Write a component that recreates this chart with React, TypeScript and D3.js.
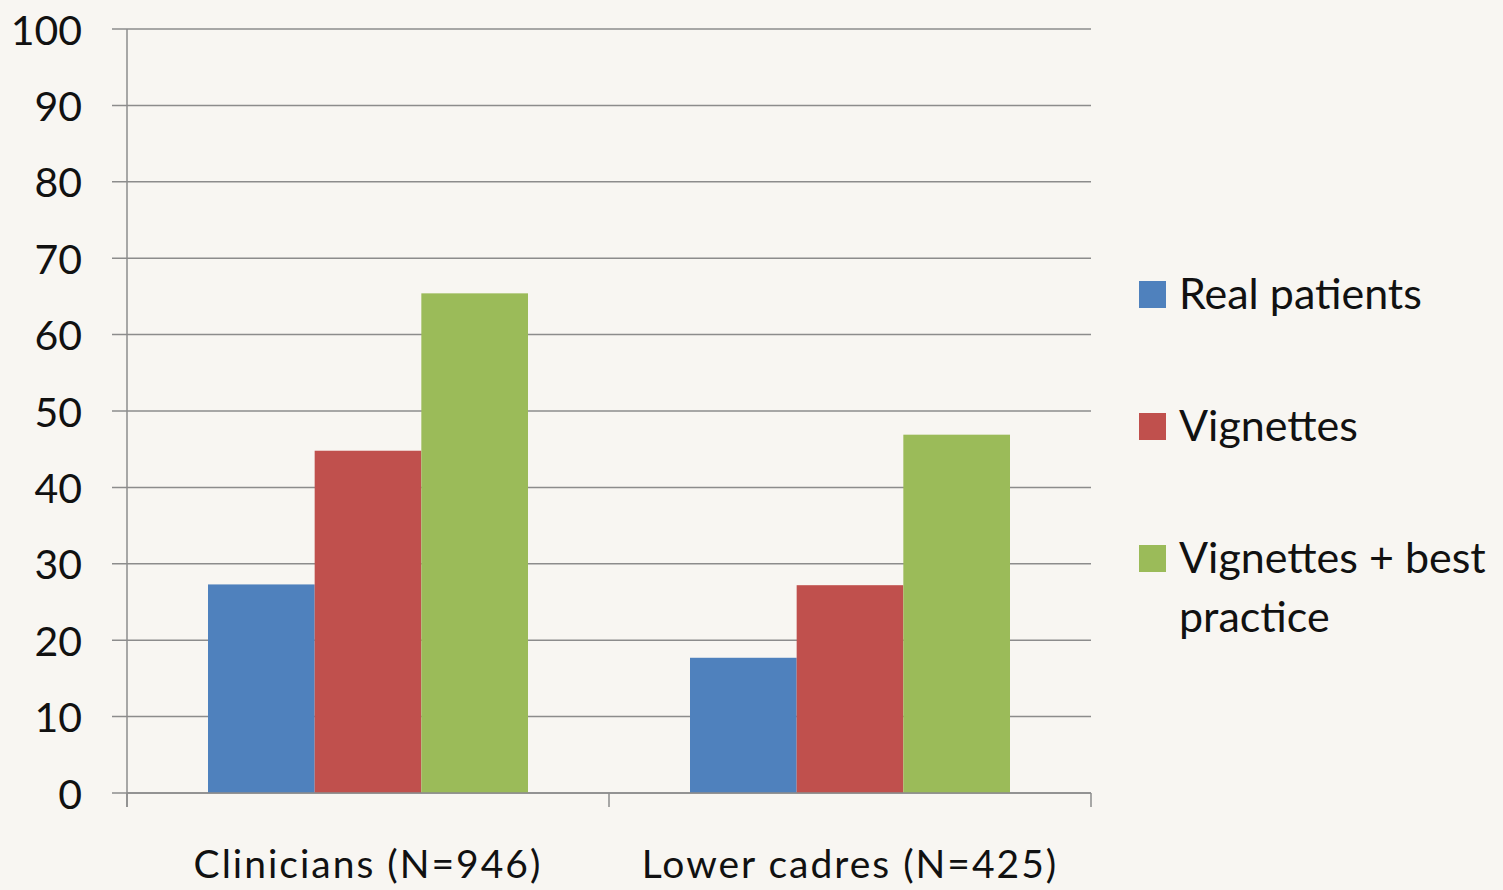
import React from "react";
import * as d3 from "d3";

// Share of cases (%) by provider cadre and measurement method
const categories = ["Clinicians (N=946)", "Lower cadres (N=425)"];
const seriesNames = ["Real patients", "Vignettes", "Vignettes + best practice"];
const realPatients = [27.3, 17.7];
const vignettes = [44.8, 27.2];
const vignettesBest = [65.4, 46.9];
const seriesColors = ["#4f81bd", "#c0504d", "#9bbb59"];
const yTicks = [0, 10, 20, 30, 40, 50, 60, 70, 80, 90, 100];

const W = 1503;
const H = 890;
const FONT = "Lato, 'Open Sans', sans-serif";

export default function App() {
  const plot = { left: 127, right: 1091, top: 29, bottom: 793 };

  const x0 = d3
    .scaleBand<string>()
    .domain(categories)
    .range([plot.left, plot.right])
    .paddingInner(0)
    .paddingOuter(0);

  const groupPad = 81;
  const x1 = d3
    .scaleBand<string>()
    .domain(seriesNames)
    .range([groupPad, x0.bandwidth() - groupPad]);

  const y = d3.scaleLinear().domain([0, 100]).range([plot.bottom, plot.top]);

  const series = [realPatients, vignettes, vignettesBest];

  const legendItems = [
    { name: "Real patients", lines: ["Real patients"], y: 294 },
    { name: "Vignettes", lines: ["Vignettes"], y: 426 },
    { name: "Vignettes + best practice", lines: ["Vignettes + best", "practice"], y: 558 },
  ];

  const boundaries = [plot.left, ...categories.map((c) => (x0(c) as number) + x0.bandwidth())];

  return (
    <svg width={W} height={H} style={{ position: "absolute", left: 0, top: 0, background: "#f8f6f2" }}>
      <rect x={0} y={0} width={W} height={H} fill="#f8f6f2" />
      {/* gridlines and y ticks */}
      {yTicks.map((t) => (
        <g key={t}>
          <line x1={plot.left - 15} x2={plot.right} y1={y(t)} y2={y(t)} stroke="#8c8c8c" strokeWidth={1.5} />
          <text
            x={82}
            y={y(t)}
            textAnchor="end"
            dominantBaseline="central"
            fontFamily={FONT}
            fontSize={41}
            fill="#111"
          >
            {t}
          </text>
        </g>
      ))}
      {/* bars */}
      {categories.map((c, ci) => (
        <g key={c} transform={`translate(${x0(c)},0)`}>
          {seriesNames.map((s, si) => (
            <rect
              key={s}
              x={x1(s)}
              y={y(series[si][ci])}
              width={x1.bandwidth()}
              height={y(0) - y(series[si][ci])}
              fill={seriesColors[si]}
            />
          ))}
        </g>
      ))}
      {/* axes */}
      <line x1={plot.left} x2={plot.left} y1={plot.top} y2={plot.bottom + 14} stroke="#8c8c8c" strokeWidth={1.5} />
      <line x1={plot.left} x2={plot.right} y1={plot.bottom} y2={plot.bottom} stroke="#8c8c8c" strokeWidth={1.5} />
      {boundaries.map((b, i) => (
        <line key={i} x1={b} x2={b} y1={plot.bottom} y2={plot.bottom + 14} stroke="#8c8c8c" strokeWidth={1.5} />
      ))}
      {categories.map((c) => (
        <text
          key={c}
          x={(x0(c) as number) + x0.bandwidth() / 2}
          y={878}
          textAnchor="middle"
          fontFamily={FONT}
          fontSize={39}
          letterSpacing={2}
          fill="#111"
        >
          {c}
        </text>
      ))}
      {/* legend */}
      {legendItems.map((it, i) => (
        <g key={it.name}>
          <rect x={1139} y={it.y - 13} width={27} height={27} fill={seriesColors[i]} />
          {it.lines.map((ln, li) => (
            <text
              key={li}
              x={1179}
              y={it.y + 15 + li * 59}
              fontFamily={FONT}
              fontSize={43}
              fill="#111"
            >
              {ln}
            </text>
          ))}
        </g>
      ))}
    </svg>
  );
}
